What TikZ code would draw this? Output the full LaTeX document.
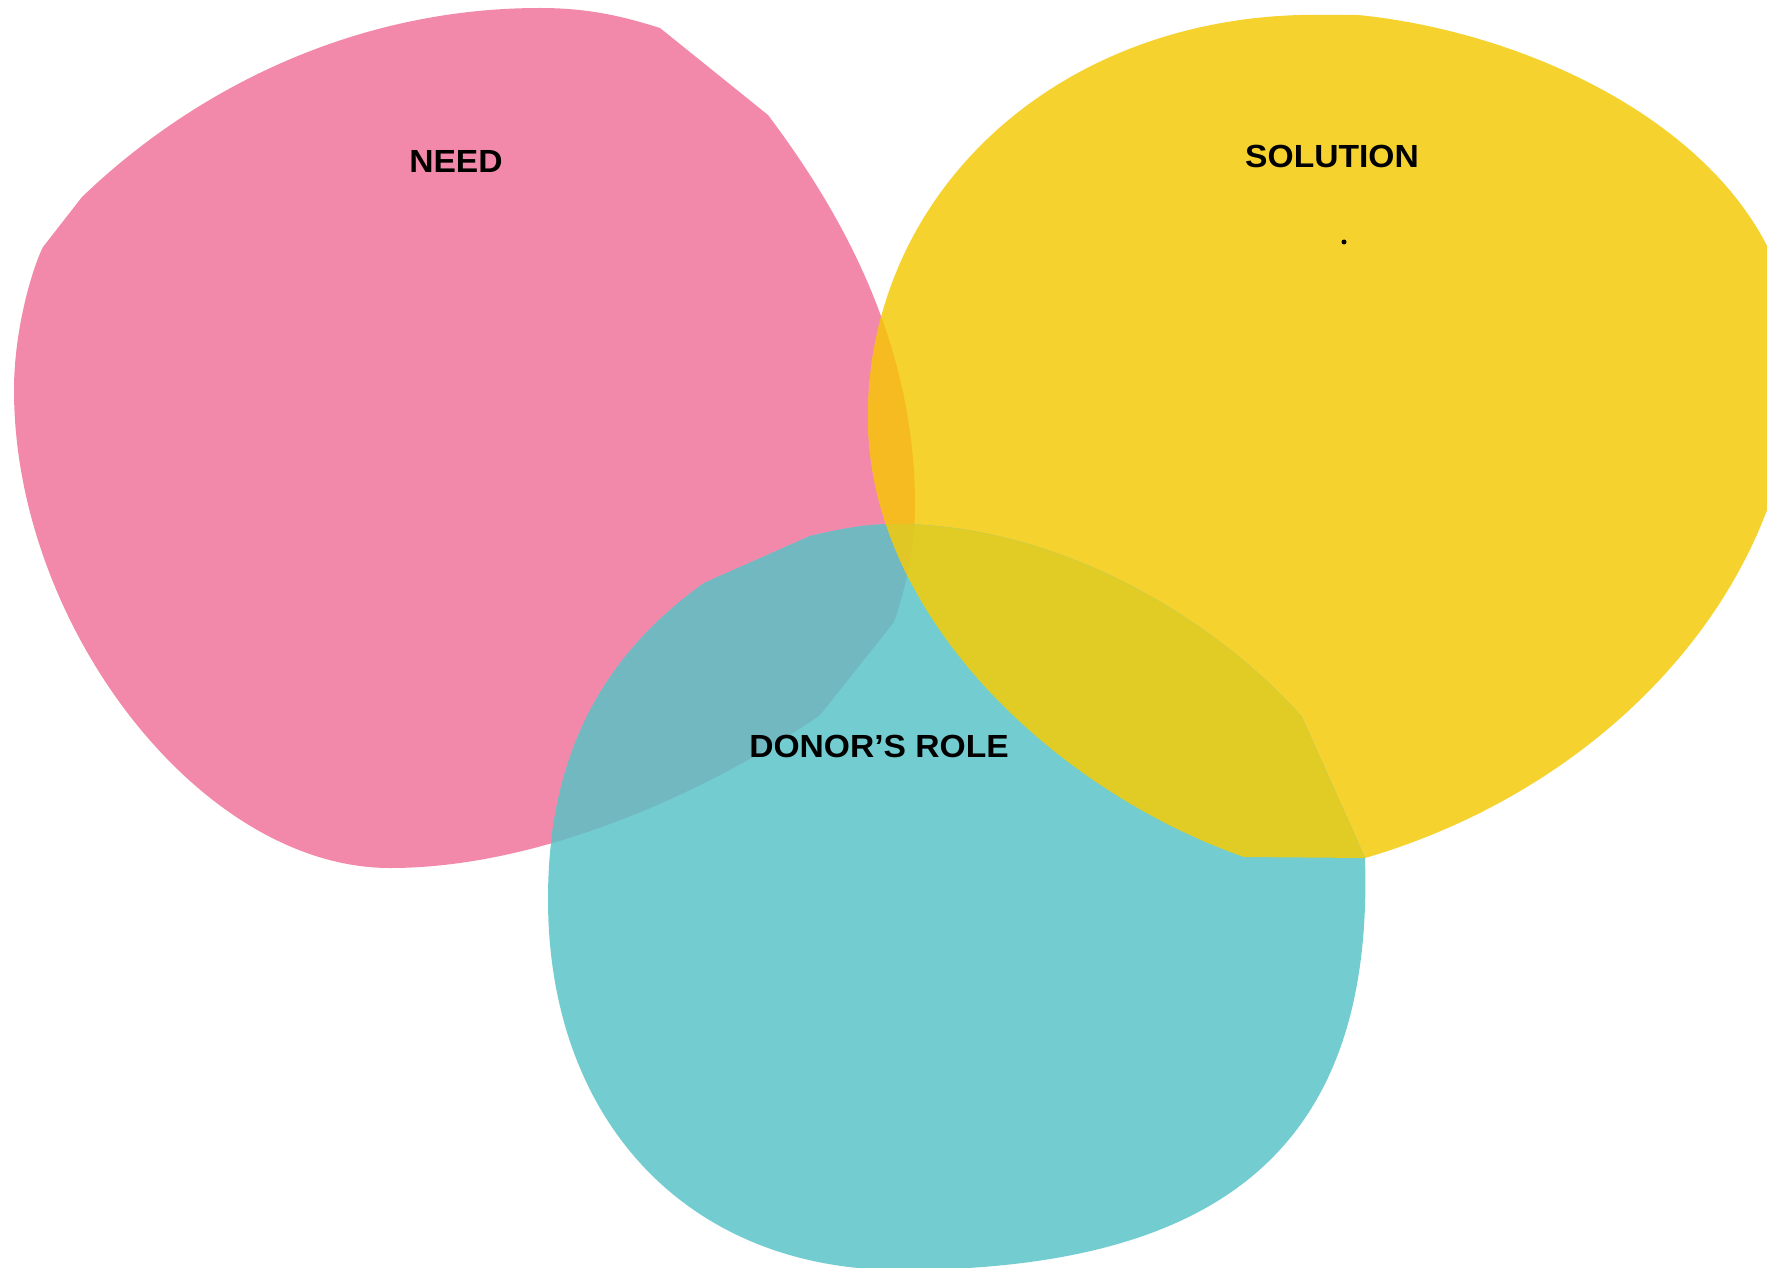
\documentclass[tikz,border=0pt]{standalone}
\usepackage{fontspec}
\setmainfont{Liberation Sans}
\newfontfamily\labelfont{Liberation Sans}[FakeStretch=1.05]
\definecolor{pinkc}{HTML}{F389AA}
\definecolor{yellowc}{HTML}{F6D22E}
\definecolor{tealc}{HTML}{73CDD0}
\definecolor{pinkteal}{HTML}{71B8C1}
\definecolor{pinkyellow}{HTML}{F5BB20}
\definecolor{yellowteal}{HTML}{E0CC24}
\definecolor{triplec}{HTML}{E1C726}
\def\PinkBlob{(660,28) -- (768,115)
  .. controls (834,203) and (915,335) .. (915,505)
  .. controls (915,550) and (905,590) .. (894,622)
  -- (820,715)
  .. controls (722,783) and (550,868) .. (390,868)
  .. controls (200,868) and (14,625) .. (14,390)
  .. controls (14,330) and (32,269) .. (43,247)
  -- (82,197)
  .. controls (190,93) and (350,8) .. (540,8)
  .. controls (590,8) and (625,17) .. (660,28) -- cycle}
\def\YellowBlob{(1300,15) -- (1358,15)
  .. controls (1558,35) and (1795,160) .. (1795,360)
  .. controls (1795,580) and (1615,785) .. (1365,858)
  -- (1244,857)
  .. controls (1056,791) and (868,617) .. (868,417)
  .. controls (868,197) and (1050,22) .. (1300,15) -- cycle}
\def\TealBlob{(704,583) -- (810,536)
  .. controls (840,529) and (865,524) .. (895,524)
  .. controls (1060,524) and (1216,620) .. (1302,717)
  -- (1365,858)
  .. controls (1374,1140) and (1230,1270) .. (900,1270)
  .. controls (689,1270) and (548,1122) .. (548,899)
  .. controls (548,740) and (615,647) .. (704,583) -- cycle}
\tikzset{label/.style={font=\labelfont\fontsize{32}{36}\selectfont\bfseries, text=black, inner sep=0pt, anchor=base}}
\begin{document}
\begin{tikzpicture}[x=1pt,y=-1pt]
\useasboundingbox (0,0) rectangle (1767,1268);
\fill[white] (0,0) rectangle (1767,1268);
\clip (0,0) rectangle (1767,1268);
\fill[pinkc] \PinkBlob;
\fill[yellowc] \YellowBlob;
\fill[tealc] \TealBlob;
\begin{scope}
  \clip \PinkBlob;
  \fill[pinkyellow] \YellowBlob;
  \fill[pinkteal] \TealBlob;
\end{scope}
\begin{scope}
  \clip \YellowBlob;
  \fill[yellowteal] \TealBlob;
\end{scope}
\begin{scope}
  \clip \PinkBlob;
  \clip \YellowBlob;
  \fill[triplec] \TealBlob;
\end{scope}
\node[label] (need) at (456,173) {NEED};
\node[label] (solution) at (1332,168) {SOLUTION};
\node[label] (donor) at (879,757) {DONOR’S ROLE};
\fill[black] (1344,242) circle (2.5) coordinate (dot);
\end{tikzpicture}
\end{document}
